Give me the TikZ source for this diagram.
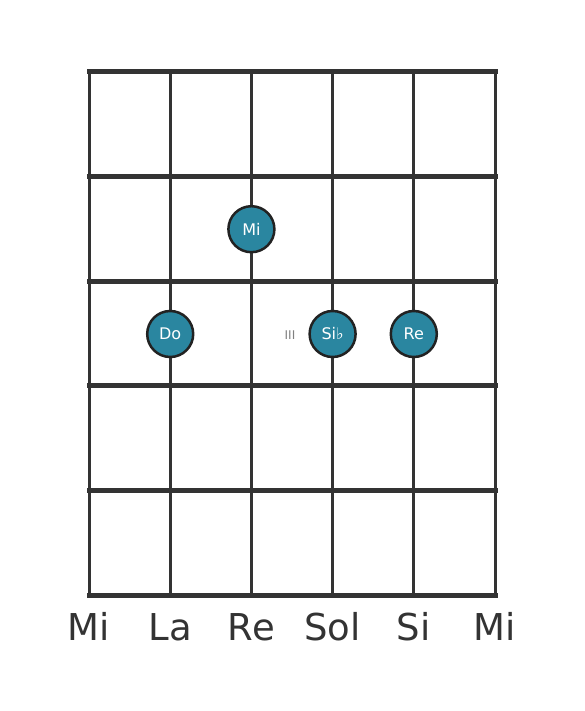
\documentclass[tikz,border=0pt]{standalone}
\usepackage{fontspec}
\setmainfont{DejaVu Sans}
\definecolor{ink}{HTML}{333333}
\definecolor{dotfill}{HTML}{2A86A0}
\definecolor{dotedge}{HTML}{222222}
\begin{document}
\begin{tikzpicture}[x=1pt,y=-1pt,
  fret/.style={draw=ink,line width=5pt,line cap=rect},
  string/.style={draw=ink,line width=3pt},
  dot/.style={circle,fill=dotfill,draw=dotedge,line width=2.5pt,minimum size=46pt,inner sep=0pt,text=white,font=\fontsize{16}{18}\selectfont},
  lbl/.style={text=ink,font=\fontsize{37}{40}\selectfont,anchor=base},
  roman/.style={text=gray,font=\fontsize{12}{14}\selectfont}]
\useasboundingbox (0,0) rectangle (584,711);
\foreach \i/\x in {0/89,1/170.2,2/251.4,3/332.6,4/413.8,5/495}{
  \coordinate (st\i) at (\x,72);
  \coordinate (sb\i) at (\x,595);
  \draw[string] (st\i) -- (sb\i);
}
\foreach \j/\y in {0/72,1/176.6,2/281.2,3/385.8,4/490.4,5/595}{
  \coordinate (fl\j) at (89,\y);
  \coordinate (fr\j) at (495,\y);
  \draw[fret] (fl\j) -- (fr\j);
}
\node[dot] (mi) at (251.4,229.2) {Mi};
\node[dot] (do) at (170.2,334) {Do};
\node[dot] (sib) at (332.6,334) {Si♭};
\node[dot] (re) at (413.8,334) {Re};
\node[roman] (pos) at (290,335) {III};
\foreach \i/\x/\t in {0/89/Mi,1/170.2/La,2/251.4/Re,3/332.6/Sol,4/413.8/Si,5/495/Mi}{
  \node[lbl] (n\i) at (\x,640) {\t};
}
\end{tikzpicture}
\end{document}
